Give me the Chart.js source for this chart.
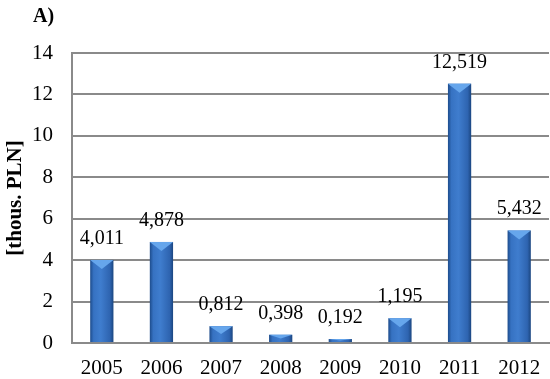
<!DOCTYPE html>
<html>
<head>
<meta charset="utf-8">
<script src="https://cdn.jsdelivr.net/npm/chart.js@4/dist/chart.umd.min.js"></script>
<style>
  html, body { margin: 0; padding: 0; background: #fff; }
  #wrap { width: 550px; height: 379px; }
</style>
</head>
<body>
<div id="wrap"><canvas id="costChart" width="550" height="379"></canvas></div>
<script>
const years = ['2005', '2006', '2007', '2008', '2009', '2010', '2011', '2012'];
const costs = [4.011, 4.878, 0.812, 0.398, 0.192, 1.195, 12.519, 5.432];
const yTicks = [0, 2, 4, 6, 8, 10, 12, 14];
const panelTitle = 'A)';

const serif = '"Liberation Serif", "Times New Roman", serif';

// bars drawn with a shaded face and a small bevel at the top, plus value labels
const barStyle = {
  id: 'barStyle',
  afterDatasetsDraw(chart) {
    const ctx = chart.ctx;
    const meta = chart.getDatasetMeta(0);
    meta.data.forEach((bar, i) => {
      const w = bar.width;
      const left = bar.x - w / 2;
      const top = bar.y;
      const bottom = bar.base;
      const h = bottom - top;
      ctx.save();
      const g = ctx.createLinearGradient(left, 0, left + w, 0);
      g.addColorStop(0, '#1d4c8c');
      g.addColorStop(0.15, '#3672c2');
      g.addColorStop(0.45, '#3f7dce');
      g.addColorStop(0.85, '#2e64b0');
      g.addColorStop(1, '#1b4680');
      ctx.fillStyle = g;
      ctx.fillRect(left, top, w, h);
      const bev = Math.min(9, h / 2);
      if (bev > 1) {
        ctx.fillStyle = '#66a6ec';
        ctx.beginPath();
        ctx.moveTo(left, top);
        ctx.lineTo(left + w, top);
        ctx.lineTo(bar.x, top + bev);
        ctx.closePath();
        ctx.fill();
      }
      ctx.fillStyle = '#000';
      ctx.font = '20px ' + serif;
      ctx.textAlign = 'center';
      ctx.textBaseline = 'alphabetic';
      const label = costs[i].toFixed(3).replace('.', ',');
      ctx.fillText(label, bar.x, top - 16);
      ctx.restore();
    });
    // panel letter
    ctx.save();
    ctx.fillStyle = '#000';
    ctx.font = 'bold 20px ' + serif;
    ctx.textAlign = 'left';
    ctx.textBaseline = 'alphabetic';
    ctx.fillText(panelTitle, 33, 22);
    ctx.restore();
  }
};

new Chart(document.getElementById('costChart'), {
  type: 'bar',
  data: {
    labels: years,
    datasets: [{
      data: costs,
      backgroundColor: 'rgba(0,0,0,0)',
      borderWidth: 0,
      categoryPercentage: 1,
      barPercentage: 0.39
    }]
  },
  options: {
    responsive: false,
    animation: false,
    layout: { padding: { left: 3, right: 1, top: 53, bottom: 0 } },
    plugins: {
      legend: { display: false },
      tooltip: { enabled: false },
      title: { display: false }
    },
    scales: {
      x: {
        afterFit: (axis) => { axis.height = 36; },
        grid: { display: false },
        border: { color: '#8a8a8a', width: 2 },
        ticks: { color: '#000', font: { family: serif, size: 21 }, padding: 5 }
      },
      y: {
        min: 0,
        max: 14,
        afterFit: (axis) => { axis.width = 69; },
        afterBuildTicks: (axis) => { axis.ticks = yTicks.map(v => ({ value: v })); },
        grid: { color: '#8a8a8a', lineWidth: 2, drawTicks: false },
        border: { color: '#8a8a8a', width: 2 },
        ticks: { color: '#000', font: { family: serif, size: 21 }, padding: 19 },
        title: {
          display: true,
          text: '[thous. PLN]',
          color: '#000',
          font: { family: serif, size: 21, weight: 'bold' },
          padding: { top: 0, bottom: 0 }
        }
      }
    }
  },
  plugins: [barStyle]
});
</script>
</body>
</html>
